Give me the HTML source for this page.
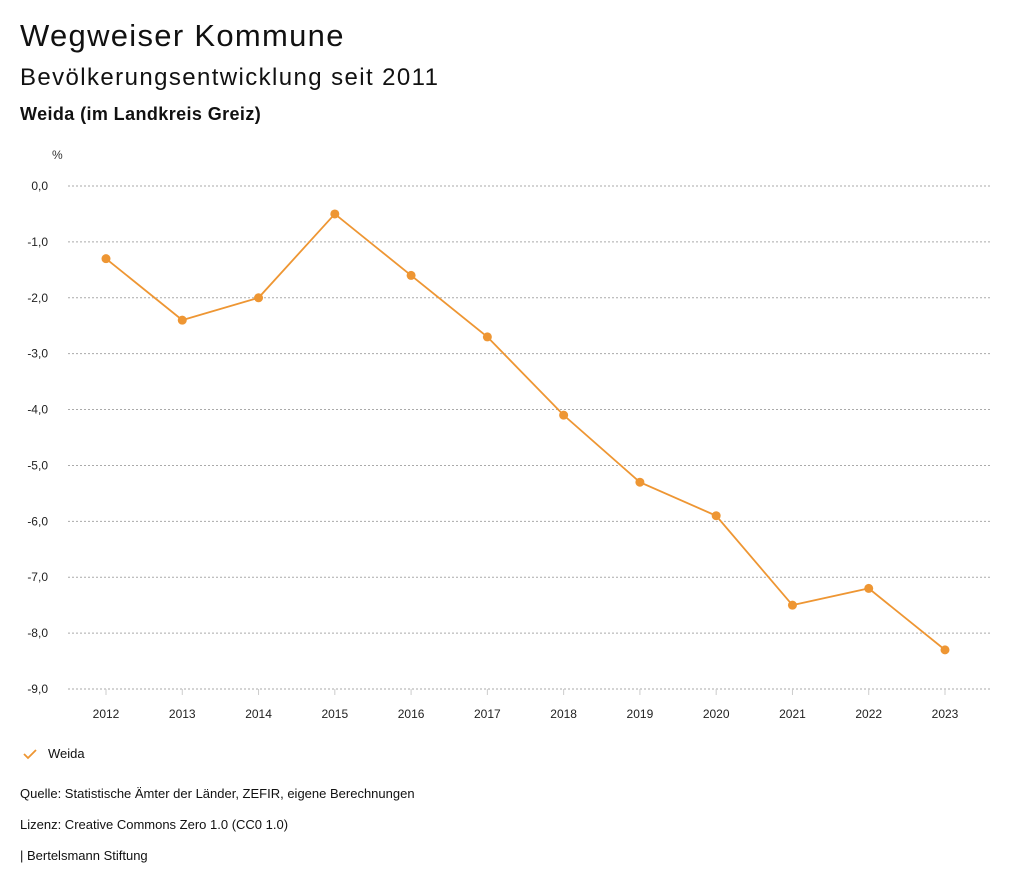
<!DOCTYPE html>
<html><head><meta charset="utf-8"><style>
body{margin:0;background:#fff;font-family:"Liberation Sans","DejaVu Sans",sans-serif;color:#111;}
.wrap{position:relative;width:1024px;height:888px;overflow:hidden;}
.t{position:absolute;left:20px;white-space:nowrap;}
</style></head><body>
<div class="wrap">
<div class="t" style="top:18px;font-size:31px;letter-spacing:1.3px;">Wegweiser Kommune</div>
<div class="t" style="top:64px;font-size:24px;letter-spacing:1.4px;">Bevölkerungsentwicklung seit 2011</div>
<div class="t" style="top:104px;font-size:18px;font-weight:bold;letter-spacing:0.4px;">Weida (im Landkreis Greiz)</div>
<svg id="chart" width="1024" height="740" style="position:absolute;left:0;top:0"></svg>
<div class="t" style="top:746px;left:48px;font-size:13px;">Weida</div>
<svg style="position:absolute;left:22px;top:747px" width="16" height="14"><path d="M2 7 L6 11 L14 3" stroke="#EE9633" stroke-width="1.8" fill="none"/></svg>
<div class="t" style="top:786px;font-size:13px;">Quelle: Statistische Ämter der Länder, ZEFIR, eigene Berechnungen</div>
<div class="t" style="top:817px;font-size:13px;">Lizenz: Creative Commons Zero 1.0 (CC0 1.0)</div>
<div class="t" style="top:848px;font-size:13px;">| Bertelsmann Stiftung</div>
</div>
<script>
const years=["2012","2013","2014","2015","2016","2017","2018","2019","2020","2021","2022","2023"];
const values=[-1.3,-2.4,-2.0,-0.5,-1.6,-2.7,-4.1,-5.3,-5.9,-7.5,-7.2,-8.3];
const yTicks=[0,-1,-2,-3,-4,-5,-6,-7,-8,-9];
const svg=document.getElementById('chart');
const NS='http://www.w3.org/2000/svg';
const y=v=>186+(0-v)*(689-186)/9;
const x=i=>106+i*(945-106)/(years.length-1);
function mk(tag,attrs){const e=document.createElementNS(NS,tag);for(const k in attrs)e.setAttribute(k,attrs[k]);svg.appendChild(e);return e;}
let u=mk('text',{x:52,y:159,'font-size':12,fill:'#333'});u.textContent='%';


yTicks.forEach(v=>{
  const l=mk('line',{x1:68,x2:990,y1:y(v),y2:y(v),stroke:'#aaa','stroke-dasharray':'2,2','stroke-width':1});
  
  
  const t=mk('text',{x:48,y:y(v)+4,'font-size':12,'text-anchor':'end',fill:'#222'});
  t.textContent=v.toFixed(1).replace('.',',');
  
  
});
years.forEach((yr,i)=>{
  const tk=mk('line',{x1:x(i),x2:x(i),y1:689,y2:695,stroke:'#ccc'});
  
  
  const t=mk('text',{x:x(i),y:718,'font-size':12,'text-anchor':'middle',fill:'#222'});
  t.textContent=yr;
  
  
});
const p=mk('polyline',{points:values.map((v,i)=>x(i)+','+y(v)).join(' '),fill:'none',stroke:'#EE9633','stroke-width':1.8});


values.forEach((v,i)=>{
  const c=mk('circle',{cx:x(i),cy:y(v),r:4.5,fill:'#EE9633'});
  
  
});
</script>
</body></html>
